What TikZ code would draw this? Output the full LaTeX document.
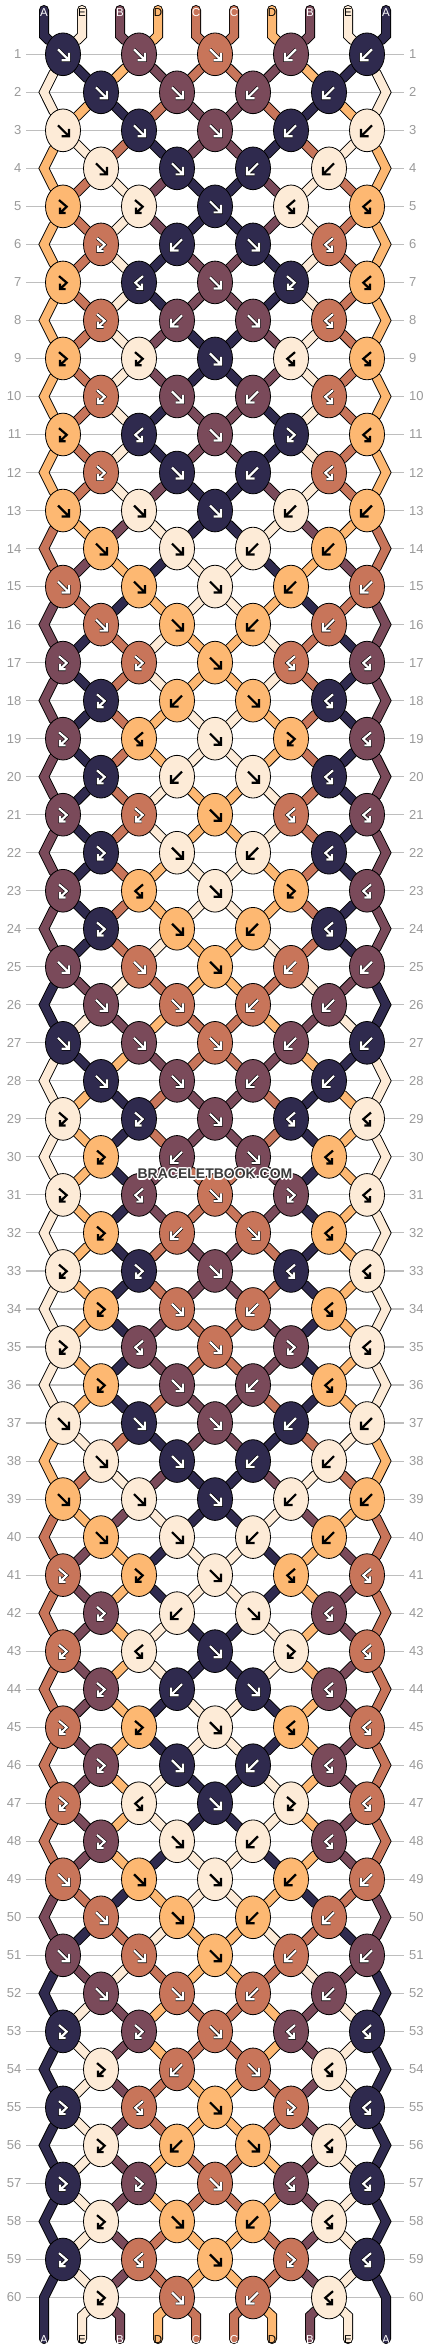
\documentclass[tikz,border=0pt]{standalone}
\usepackage{fontspec}
\setmainfont{Liberation Sans}
\usepackage{tikz}
\usetikzlibrary{shapes.geometric,backgrounds}

\definecolor{colA}{HTML}{2F2A4E}
\definecolor{colB}{HTML}{7A4A5A}
\definecolor{colC}{HTML}{C8755A}
\definecolor{colD}{HTML}{FDB872}
\definecolor{colE}{HTML}{FDEBD7}
\colorlet{tipA}{white}
\colorlet{tipB}{white}
\colorlet{tipC}{white}
\colorlet{tipD}{black}
\colorlet{tipE}{black}
\colorlet{rimA}{black}
\colorlet{rimB}{black}
\colorlet{rimC}{black}
\colorlet{rimD}{colD}
\colorlet{rimE}{colE}
\definecolor{rulegray}{HTML}{BEBEBE}
\definecolor{numgray}{HTML}{9A9A9A}
\definecolor{markgray}{HTML}{3A3A3A}

% string x and row y (px)
\newcommand{\sx}[1]{215+38*(#1-5.5)}
\newcommand{\ry}[1]{54.3+(#1-1)*38.02}

% add a point to the path of string #1
\newcommand{\addpt}[2]{%
  \expandafter\xdef\csname pa@#1\endcsname{\csname pa@#1\endcsname -- (#2)}}

% arrow in a knot: #1 type, #2 knot, #3 style
\newcommand{\knotsym}[3]{%
  \if f#1\draw[#3,shift={(#2)}] (-5,-5) -- (6,6) (-1.5,6) -- (6,6) -- (6,-1.5);\fi
  \if b#1\draw[#3,shift={(#2)}] (5,-5) -- (-6,6) (1.5,6) -- (-6,6) -- (-6,-1.5);\fi
  \if F#1\draw[#3,shift={(#2)}] (-4,-6.3) -- (3.7,0.3) -- (-3,6.7) (2.7,6.7) -- (-3,6.7) -- (-3,1.3);\fi
  \if B#1\draw[#3,shift={(#2)}] (4,-6.3) -- (-3.7,0.3) -- (3,6.7) (-2.7,6.7) -- (3,6.7) -- (3,1.3);\fi
}

% one row of knots: #1 row, #2 knot types
\newcommand{\knotrow}[2]{%
  \pgfmathsetmacro{\ky}{\ry{#1}}%
  \foreach \t [count=\k] in #2 {%
    \pgfmathtruncatemacro{\pl}{2*\k-mod(#1,2)}%
    \pgfmathtruncatemacro{\pr}{\pl+1}%
    \edef\il{\csname sp@\pl\endcsname}%
    \edef\ir{\csname sp@\pr\endcsname}%
    \if f\t \edef\ik{\il}\def\sw{1}\fi
    \if F\t \edef\ik{\il}\def\sw{0}\fi
    \if b\t \edef\ik{\ir}\def\sw{1}\fi
    \if B\t \edef\ik{\ir}\def\sw{0}\fi
    \edef\kn{\csname sc@\ik\endcsname}%
    \node[knot, fill=col\kn] (k-#1-\k) at ({\sx{\pl}+19}, \ky) {};
    \knotsym{\t}{k-#1-\k}{symrim, rim\kn}%
    \knotsym{\t}{k-#1-\k}{sym, tip\kn}%
    \addpt{\il}{k-#1-\k}%
    \addpt{\ir}{k-#1-\k}%
    \if1\sw
      \expandafter\xdef\csname sp@\pl\endcsname{\ir}%
      \expandafter\xdef\csname sp@\pr\endcsname{\il}%
    \fi
  }%
  \ifodd#1\relax\else
    \coordinate (eL-#1) at (44,\ky);
    \coordinate (eR-#1) at (386,\ky);
    \addpt{\csname sp@1\endcsname}{eL-#1}%
    \addpt{\csname sp@10\endcsname}{eR-#1}%
  \fi
}

\begin{document}
\begin{tikzpicture}[
    x=1pt, y=-1pt,
    knot/.style={ellipse, draw=black, line width=0.8pt, minimum width=35pt, minimum height=42.7pt, inner sep=0pt},
    sym/.style={line width=2.2pt, line join=miter},
    symrim/.style={line width=3.4pt, line join=miter},
    strand/.style={draw=black, line width=0.9pt, double=#1, double distance=8.2pt, line cap=round, line join=miter},
    lab/.style={font=\fontsize{11.5}{12}\selectfont, inner sep=0pt},
    num/.style={font=\fontsize{13}{14}\selectfont, text=numgray, inner sep=0pt},
    rowline/.style={draw=rulegray, line width=1.1pt, shorten <=4.5pt, shorten >=5pt},
    wmark/.style={font=\bfseries\fontsize{14}{15}\selectfont, inner sep=0pt}
]
\useasboundingbox (0,0) rectangle (430,2352);

% strings at the top
\foreach \i/\c in {1/A,2/E,3/B,4/D,5/C,6/C,7/D,8/B,9/E,10/A} {
  \expandafter\xdef\csname sp@\i\endcsname{\i}
  \expandafter\xdef\csname sc@\i\endcsname{\c}
  \expandafter\xdef\csname pa@\i\endcsname{(t-\i) -- (u-\i)}
  \coordinate (t-\i) at ({\sx{\i}}, 10);
  \coordinate (u-\i) at ({\sx{\i}}, 35.5);
  \node[lab, text=tip\c] (lt-\i) at ({\sx{\i}}, 12.5) {\c};
}

% knots, row by row
\foreach \r/\ts in {%
  1/{f,f,f,b,b},2/{f,f,b,b},3/{f,f,f,b,b},4/{f,f,b,b},%
  5/{F,F,f,B,B},6/{F,b,f,B},7/{F,B,f,F,B},8/{F,b,f,B},%
  9/{F,F,f,B,B},10/{F,f,b,B},11/{F,B,f,F,B},12/{F,f,b,B},%
  13/{f,f,f,b,b},14/{f,f,b,b},15/{f,f,f,b,b},16/{f,f,b,b},%
  17/{F,F,f,B,B},18/{F,b,f,B},19/{F,B,f,F,B},20/{F,b,f,B},%
  21/{F,F,f,B,B},22/{F,f,b,B},23/{F,B,f,F,B},24/{F,f,b,B},%
  25/{f,f,f,b,b},26/{f,f,b,b},27/{f,f,f,b,b},28/{f,f,b,b},%
  29/{F,F,f,B,B},30/{F,b,f,B},31/{F,B,f,F,B},32/{F,b,f,B},%
  33/{F,F,f,B,B},34/{F,f,b,B},35/{F,B,f,F,B},36/{F,f,b,B},%
  37/{f,f,f,b,b},38/{f,f,b,b},39/{f,f,f,b,b},40/{f,f,b,b},%
  41/{F,F,f,B,B},42/{F,b,f,B},43/{F,B,f,F,B},44/{F,b,f,B},%
  45/{F,F,f,B,B},46/{F,f,b,B},47/{F,B,f,F,B},48/{F,f,b,B},%
  49/{f,f,f,b,b},50/{f,f,b,b},51/{f,f,f,b,b},52/{f,f,b,b},%
  53/{F,F,f,B,B},54/{F,b,f,B},55/{F,B,f,F,B},56/{F,b,f,B},%
  57/{F,F,f,B,B},58/{F,f,b,B},59/{F,B,f,F,B},60/{F,f,b,B}%
} {\knotrow{\r}{\ts}}

% strings at the bottom
\foreach \p in {1,...,10} {
  \edef\is{\csname sp@\p\endcsname}
  \edef\c{\csname sc@\is\endcsname}
  \coordinate (v-\p) at ({\sx{\p}}, 2316);
  \coordinate (w-\p) at ({\sx{\p}}, 2339);
  \addpt{\is}{v-\p}
  \addpt{\is}{w-\p}
  \node[lab, text=tip\c] (lb-\p) at ({\sx{\p}}, 2340) {\c};
}

% row numbers
\foreach \r in {1,...,60} {
  \node[num, anchor=east] (nl-\r) at (21.5, {\ry{\r}}) {\r};
  \node[num, anchor=west] (nr-\r) at (409, {\ry{\r}}) {\r};
}

\begin{scope}[on background layer]
  \fill[white] (0,0) rectangle (430,2352);
  \foreach \r in {1,...,60} \draw[rowline] (nl-\r.east) -- (nr-\r.west);
  \foreach \i in {1,...,10} {
    \edef\x{\noexpand\draw[strand=col\csname sc@\i\endcsname] \csname pa@\i\endcsname;}\x
  }
\end{scope}

% watermark, white rim first
\foreach \a in {0,45,...,315}
  \node[wmark, text=white, shift={(\a:1.3)}] (halo-\a) at (215, 1174) {BRACELETBOOK.COM};
\node[wmark, text=markgray] (mark) at (215, 1174) {BRACELETBOOK.COM};

\end{tikzpicture}
\end{document}
